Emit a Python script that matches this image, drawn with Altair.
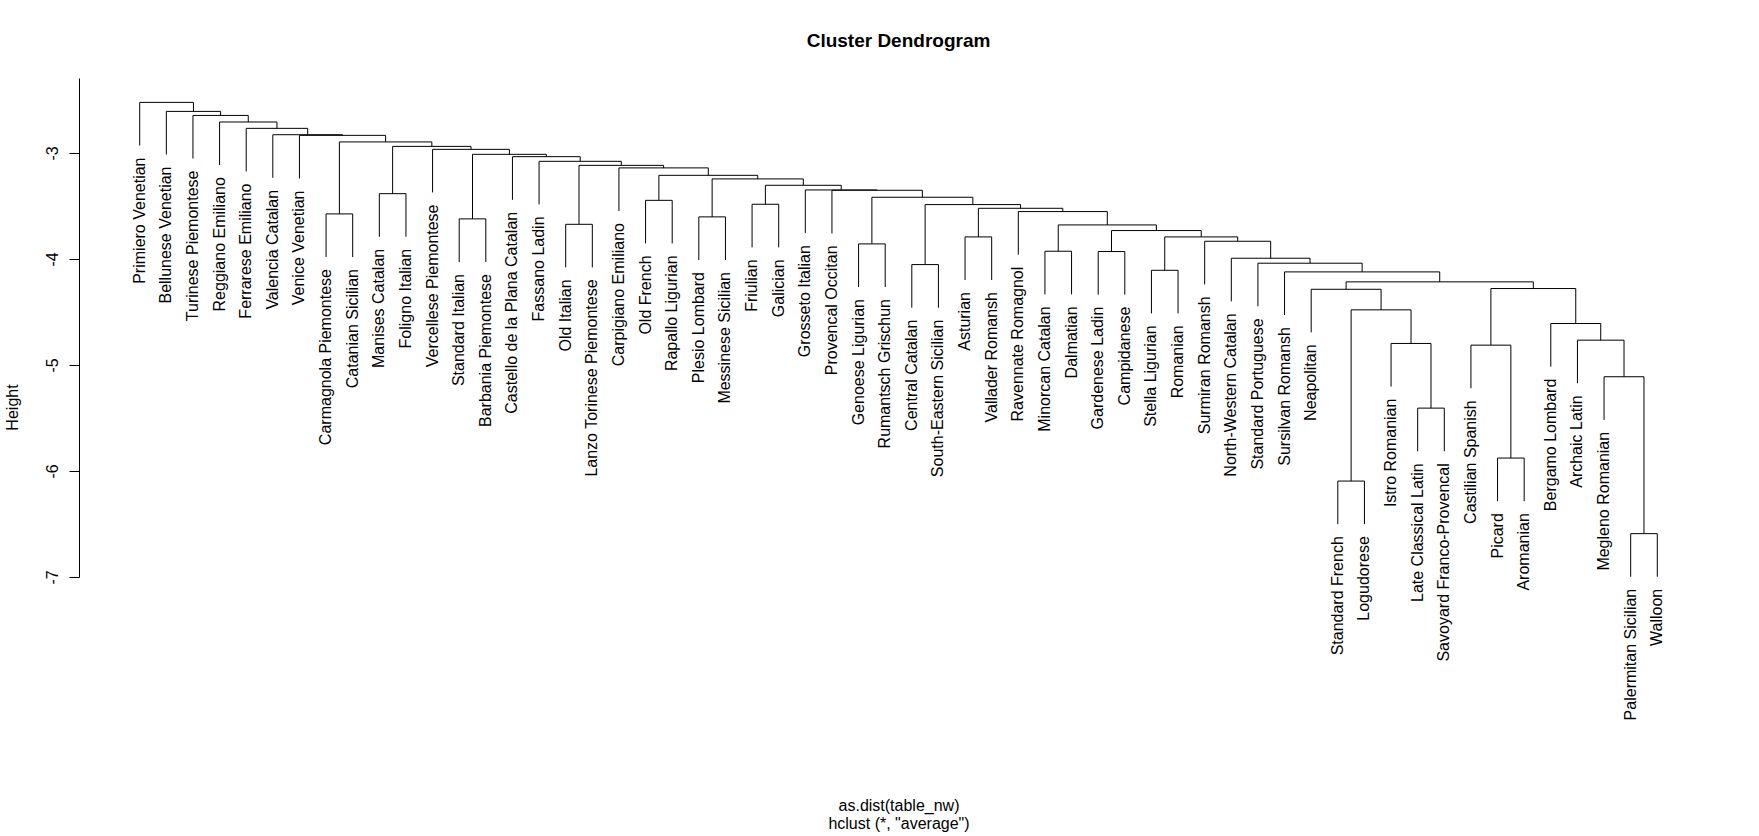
import altair as alt
import pandas as pd

# Leaves in plotted order (left to right)
leaves = [
    "Primiero Venetian", "Bellunese Venetian", "Turinese Piemontese", "Reggiano Emiliano",
    "Ferrarese Emiliano", "Valencia Catalan", "Venice Venetian", "Carmagnola Piemontese",
    "Catanian Sicilian", "Manises Catalan", "Foligno Italian", "Vercellese Piemontese",
    "Standard Italian", "Barbania Piemontese", "Castello de la Plana Catalan", "Fassano Ladin",
    "Old Italian", "Lanzo Torinese Piemontese", "Carpigiano Emiliano", "Old French",
    "Rapallo Ligurian", "Plesio Lombard", "Messinese Sicilian", "Friulian",
    "Galician", "Grosseto Italian", "Provencal Occitan", "Genoese Ligurian",
    "Rumantsch Grischun", "Central Catalan", "South-Eastern Sicilian", "Asturian",
    "Vallader Romansh", "Ravennate Romagnol", "Minorcan Catalan", "Dalmatian",
    "Gardenese Ladin", "Campidanese", "Stella Ligurian", "Romanian",
    "Surmiran Romansh", "North-Western Catalan", "Standard Portuguese", "Sursilvan Romansh",
    "Neapolitan", "Standard French", "Logudorese", "Istro Romanian",
    "Late Classical Latin", "Savoyard Franco-Provencal", "Castilian Spanish", "Picard",
    "Aromanian", "Bergamo Lombard", "Archaic Latin", "Megleno Romanian",
    "Palermitan Sicilian", "Walloon",
]

# hclust-style merge table: negative = leaf number, positive = earlier merge row (1-based)
merge_left = [-57, -46, -52, -49, -56, -51, -48, -55, -54, 2, -45, 6, 11, -44, -43, -42, -41,
              -39, 18, -37, 20, -35, 22, -34, -32, 25, -30, 27, -28, 29, -27, -26, -24, 33,
              -22, 35, -20, 37, -19, -17, 40, -16, -15, -13, 44, -12, -10, 47, -8, 49, -7,
              -6, -5, -4, -3, -2, -1]
merge_right = [-58, -47, -53, -50, 1, 3, 4, 5, 8, 7, 10, 9, 12, 13, 14, 15, 16,
               -40, 17, -38, 19, -36, 21, 23, -33, 24, -31, 26, -29, 28, 30, 31, -25, 32,
               -23, 34, -21, 36, 38, -18, 39, 41, 42, -14, 43, 45, -11, 46, -9, 48, 50,
               51, 52, 53, 54, 55, 56]
merge_height = [-6.591, -6.095, -5.878, -5.407, -5.111, -4.813, -4.797, -4.766, -4.609,
                -4.480, -4.286, -4.279, -4.216, -4.122, -4.040, -3.993, -3.833,
                -4.107, -3.792, -3.930, -3.732, -3.927, -3.679, -3.553, -3.792, -3.522,
                -4.053, -3.487, -3.858, -3.418, -3.352, -3.349, -3.484, -3.305,
                -3.603, -3.245, -3.447, -3.211, -3.141, -3.673, -3.117, -3.079, -3.035,
                -3.622, -3.013, -2.966, -3.384, -2.938, -3.575, -2.896, -2.834,
                -2.828, -2.768, -2.708, -2.646, -2.608, -2.523]

y_ticks = [-3, -4, -5, -6, -7]
hang = 0.1

# ---- build segments through the tree structure ----
hrange = max(merge_height) - min(merge_height)
cx, ch = {}, {}
segs, labs = [], []


def child_pos(c, parent_h):
    if c < 0:
        x = float(-c)
        end = parent_h - hang * hrange
        labs.append({"name": leaves[-c - 1], "x": x, "y": end})
        return x, end
    return cx[c], ch[c]


for i, (a, b, h) in enumerate(zip(merge_left, merge_right, merge_height), start=1):
    xa, ha = child_pos(a, h)
    xb, hb = child_pos(b, h)
    segs.append({"x": xa, "x2": xa, "y": h, "y2": ha})
    segs.append({"x": xb, "x2": xb, "y": h, "y2": hb})
    segs.append({"x": xa, "x2": xb, "y": h, "y2": h})
    cx[i] = (xa + xb) / 2
    ch[i] = h

seg_df = pd.DataFrame(segs)
lab_df = pd.DataFrame(labs)

FONT = "Liberation Sans"
n = len(leaves)
pad = 0.04 * (n - 1)
xs = alt.Scale(domain=[1 - pad, n + pad], nice=False, zero=False)
ys = alt.Scale(domain=[-7.0, -2.293], nice=False, zero=False)

x_axis = alt.Axis(
    domain=False, ticks=False, labels=False, grid=False,
    title=["as.dist(table_nw)", 'hclust (*, "average")'],
    titleFont=FONT, titleFontSize=16, titleFontWeight="normal", titleColor="black",
    titleLineHeight=18, titleBaseline="middle", titleAlign="center",
    titleX=819.5, titleY=228,
)
y_axis = alt.Axis(
    values=y_ticks, labelExpr="toString(datum.value)", grid=False,
    labelAngle=270, labelAlign="center", labelBaseline="alphabetic",
    labelFont=FONT, labelFontSize=16, labelColor="black", labelPadding=12,
    tickSize=10, tickColor="black", domainColor="black", tickWidth=1, domainWidth=1,
    title="Height", titleFont=FONT, titleFontSize=16, titleFontWeight="normal",
    titleColor="black", titleAngle=270, titleAlign="center", titleBaseline="middle",
    titleX=-67, titleY=329,
)

rules = alt.Chart(seg_df).mark_rule(color="black", strokeWidth=1).encode(
    x=alt.X("x:Q", scale=xs, axis=x_axis),
    x2="x2:Q",
    y=alt.Y("y:Q", scale=ys, axis=y_axis),
    y2="y2:Q",
)

texts = alt.Chart(lab_df).mark_text(
    angle=270, align="right", baseline="middle", font=FONT, fontSize=16,
    color="black", yOffset=12,
).encode(
    x=alt.X("x:Q", scale=xs, axis=x_axis),
    y=alt.Y("y:Q", scale=ys, axis=y_axis),
    text="name:N",
)

chart = alt.layer(rules, texts).properties(
    width=1639,
    height=499,
    title=alt.TitleParams(
        "Cluster Dendrogram", font=FONT, fontSize=19, fontWeight="bold",
        color="black", anchor="middle", offset=27,
    ),
    autosize=alt.AutoSizeParams(type="none"),
    padding={"left": 79, "top": 78, "right": 41, "bottom": 259},
).configure_view(strokeWidth=0)

chart.save("out.html", embed_options={"renderer": "svg", "actions": False})
